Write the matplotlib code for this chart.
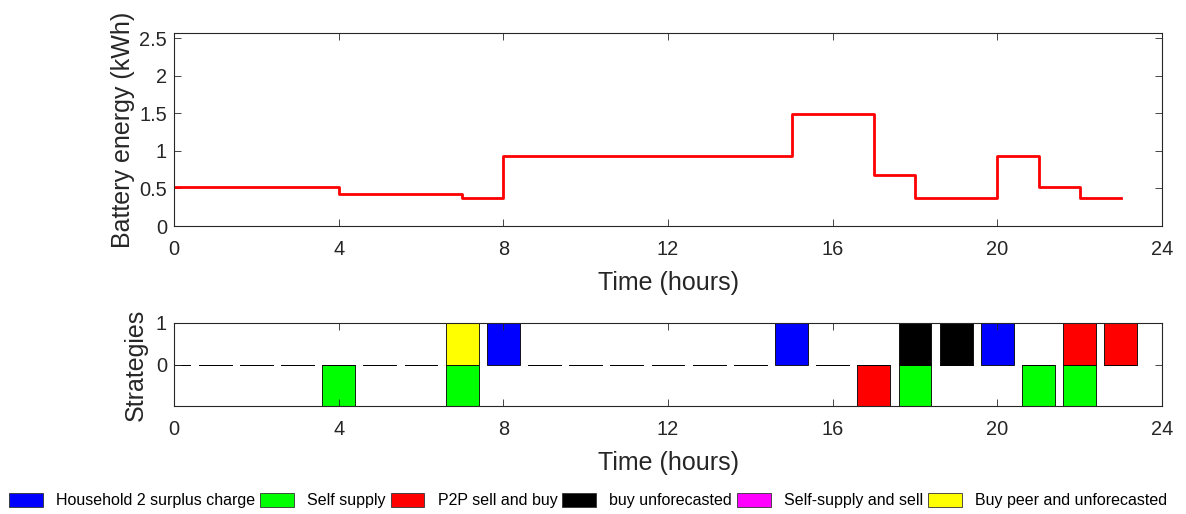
import numpy as np
import matplotlib
matplotlib.use("Agg")
import matplotlib.pyplot as plt
from matplotlib.patches import Patch

plt.rcParams['font.family'] = ['Liberation Sans', 'DejaVu Sans']

# Hourly battery energy (kWh), hours 0..23
hours = list(range(24))
battery_energy = [0.52, 0.52, 0.52, 0.52,
                  0.43, 0.43, 0.43,
                  0.37,
                  0.93, 0.93, 0.93, 0.93, 0.93, 0.93, 0.93,
                  1.49, 1.49,
                  0.68,
                  0.37, 0.37,
                  0.93,
                  0.52,
                  0.37, 0.37]

# Strategy indicators per hour (+1 / -1 / 0)
strategy_names = ["Household 2 surplus charge", "Self supply", "P2P sell and buy",
                  "buy unforecasted", "Self-supply and sell", "Buy peer and unforecasted"]
strategy_colors = ["#0000ff", "#00ff00", "#ff0000", "#000000", "#ff00ff", "#ffff00"]

surplus_charge = [0]*24
surplus_charge[8] = 1; surplus_charge[15] = 1; surplus_charge[20] = 1
self_supply = [0]*24
for h in (4, 7, 18, 21, 22):
    self_supply[h] = -1
p2p_sell_buy = [0]*24
p2p_sell_buy[17] = -1; p2p_sell_buy[22] = 1; p2p_sell_buy[23] = 1
buy_unforecasted = [0]*24
buy_unforecasted[18] = 1; buy_unforecasted[19] = 1
self_supply_sell = [0]*24
buy_peer_unforecasted = [0]*24
buy_peer_unforecasted[7] = 1

strategies = [surplus_charge, self_supply, p2p_sell_buy,
              buy_unforecasted, self_supply_sell, buy_peer_unforecasted]

W, H = 1186, 514
fig = plt.figure(figsize=(W/100, H/100), dpi=100)

axis_col = "#262626"

def style(ax):
    for s in ax.spines.values():
        s.set_color(axis_col)
        s.set_linewidth(0.8)
    ax.tick_params(direction='in', top=True, right=True, length=5, width=0.6,
                   colors=axis_col, labelsize=14.4)
    ax.tick_params(axis='x', pad=10)
    ax.tick_params(axis='y', pad=5)

# Top: battery energy as a step line
ax1 = fig.add_axes([174/W, (H-226)/H, (1162-174)/W, (226-33)/H])
ax1.step(hours, battery_energy, where='post', color='#ff0000', lw=2)
ax1.set_xlim(0, 24)
ax1.set_ylim(0, 2.57)
ax1.set_xticks(range(0, 25, 4))
ax1.set_yticks([0, 0.5, 1, 1.5, 2, 2.5])
ax1.set_yticklabels(['0', '0.5', '1', '1.5', '2', '2.5'])
ax1.set_xlabel("Time (hours)", fontsize=18, color=axis_col, labelpad=9)
ax1.set_ylabel("Battery energy (kWh)", fontsize=18, color=axis_col, labelpad=3)
style(ax1)

# Bottom: stacked strategy bars
ax2 = fig.add_axes([174/W, (H-406)/H, (1162-174)/W, (406-323)/H])
pos_base = np.zeros(24)
neg_base = np.zeros(24)
for vals, col in zip(strategies, strategy_colors):
    v = np.array(vals, dtype=float)
    base = np.where(v >= 0, pos_base, neg_base)
    ax2.bar(hours, v, bottom=base, width=0.8, color=col,
            edgecolor='black', linewidth=0.6)
    pos_base += np.clip(v, 0, None)
    neg_base += np.clip(v, None, 0)
ax2.set_xlim(0, 24)
ax2.set_ylim(-1, 1)
ax2.set_xticks(range(0, 25, 4))
ax2.set_yticks([0, 1])
ax2.set_xlabel("Time (hours)", fontsize=18, color=axis_col, labelpad=9)
ax2.set_ylabel("Strategies", fontsize=18, color=axis_col, labelpad=6)
style(ax2)

handles = [Patch(facecolor=c, edgecolor='#333333', linewidth=0.6) for c in strategy_colors]
fig.legend(handles, strategy_names, loc='center', bbox_to_anchor=(0.496, 0.026),
           ncol=6, frameon=False, fontsize=11.5, handlelength=2.1, handleheight=1.0,
           handletextpad=0.85, columnspacing=0.3, borderaxespad=0)

fig.savefig("out.png", dpi=100)
